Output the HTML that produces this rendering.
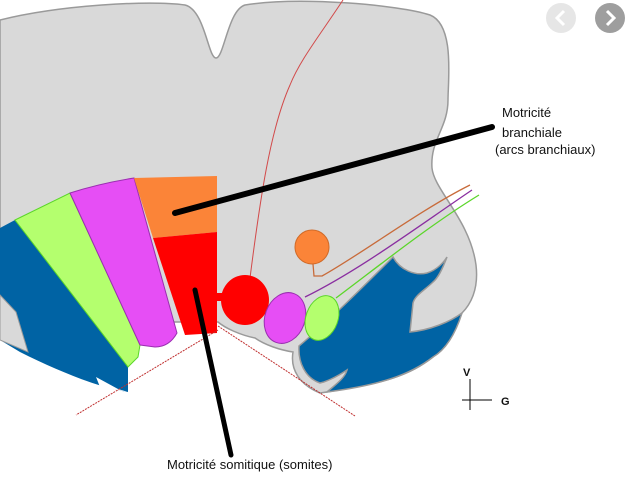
<!DOCTYPE html>
<html><head><meta charset="utf-8"><style>
html,body{margin:0;padding:0;background:#fff;}
svg{display:block;}
text{font-family:"Liberation Sans",sans-serif;fill:#111;}
</style></head><body>
<svg width="626" height="481" viewBox="0 0 626 481" xmlns="http://www.w3.org/2000/svg">
<path d="M0,20 C60,5 150,0 185,5 C205,10 208,58 216,58 C224,58 228,10 245,5 C300,-4 400,5 430,15 C455,25 448,80 448,100 C448,128 430,140 432,168 C434,190 470,220 476,265 C479,290 470,305 462,313 L433,357 C410,375 387,383 320,393 C300,385 290,370 293,352 C280,350 265,345 255,338 C240,335 225,328 218,322 L0,322 Z" fill="#d9d9d9" stroke="#9a9a9a" stroke-width="1.5"/>
<path d="M0,228 L15,220 L128,367 L128,392 C100,388 60,372 20,352 L0,340 Z" fill="#0063a4"/>
<path d="M0,295 L16,312 L28,352 L0,340 Z" fill="#d9d9d9" stroke="#9a9a9a" stroke-width="1"/>
<path d="M96,377 L118,389 L128,392 L100,387 Z" fill="#fff"/>
<path d="M15,220 L70,193 L140,345 L138,357 L128,367 Z" fill="#b4ff6e" stroke="#5bd62a" stroke-width="1"/>
<path d="M70,193 C95,185 115,181 134,178 L177,333 C172,342 165,347 155,347 L140,345 Z" fill="#e64ef5" stroke="#9a2fb0" stroke-width="1"/>
<path d="M134,178 L217,176 L217,232 L153,238 Z" fill="#fb8438"/>
<path d="M153,238 L217,232 L217,333 L185,335 Z" fill="#ff0000"/>
<path d="M299,346 C330,320 365,285 393,257 C400,270 415,276 427,273 C437,270 444,262 447,257 C442,270 438,278 433,282 C425,290 415,295 413,303 L410,332 C430,330 450,322 462,313 C455,335 445,350 433,357 C410,375 380,385 327,392 C335,385 345,378 347,370 C335,378 325,382 320,383 C305,378 298,362 299,346 Z" fill="#0063a4" stroke="#9a9a9a" stroke-width="1.5"/>
<path d="M343,0 C320,35 300,60 290,85 C270,130 260,200 250,278" fill="none" stroke="#d24a4a" stroke-width="1"/>
<rect x="215" y="293" width="10" height="8" fill="#f00"/>
<ellipse cx="245" cy="300" rx="24" ry="25" fill="#f00"/>
<ellipse cx="285" cy="318" rx="20" ry="26" transform="rotate(20 285 318)" fill="#e64ef5" stroke="#9a2fb0"/>
<ellipse cx="322" cy="318" rx="16" ry="23" transform="rotate(20 322 318)" fill="#b4ff6e" stroke="#5bd62a"/>
<circle cx="312" cy="247" r="17" fill="#fb8438" stroke="#d06a28"/>
<path d="M313,264 L314,276 L322,276 C360,255 420,210 470,185" fill="none" stroke="#c86b3a" stroke-width="1.3"/>
<path d="M305,297 C360,270 420,225 472,190" fill="none" stroke="#8a2ea0" stroke-width="1.3"/>
<path d="M336,298 C380,265 430,225 479,195" fill="none" stroke="#5bd62a" stroke-width="1.3"/>
<line x1="218" y1="330" x2="76" y2="415" stroke="#c03030" stroke-width="1" stroke-dasharray="2,1"/>
<line x1="218" y1="326" x2="355" y2="416" stroke="#c03030" stroke-width="1" stroke-dasharray="2,1"/>
<line x1="175" y1="213" x2="492" y2="127" stroke="#000" stroke-width="6" stroke-linecap="round"/>
<line x1="195" y1="290" x2="231" y2="455" stroke="#000" stroke-width="5" stroke-linecap="round"/>
<text x="502" y="117" font-size="13">Motricité</text>
<text x="502" y="137" font-size="13">branchiale</text>
<text x="495" y="154" font-size="13">(arcs branchiaux)</text>
<text x="167" y="469" font-size="13">Motricité somitique (somites)</text>
<text x="463" y="376" font-size="11" font-weight="bold">V</text>
<line x1="470" y1="379" x2="470" y2="410" stroke="#000" stroke-width="1"/>
<line x1="462" y1="400" x2="492" y2="400" stroke="#000" stroke-width="1"/>
<text x="501" y="405" font-size="11" font-weight="bold">G</text>
<circle cx="561" cy="18" r="15" fill="#e6e6e6"/>
<path d="M564,11 L557,18 L564,25" fill="none" stroke="#fff" stroke-width="3"/>
<circle cx="610" cy="18" r="15" fill="#9e9e9e"/>
<path d="M607,11 L614,18 L607,25" fill="none" stroke="#fff" stroke-width="3"/>
</svg>
</body></html>
